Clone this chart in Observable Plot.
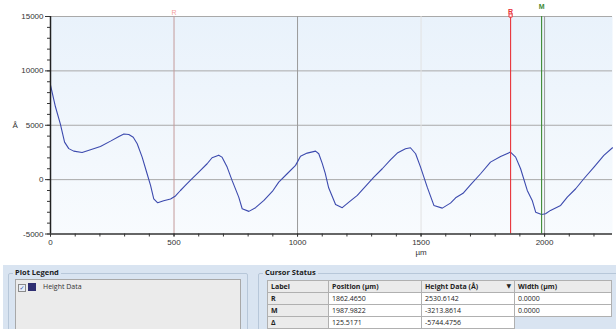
<!DOCTYPE html>
<html>
<head>
<meta charset="utf-8">
<script src="https://cdn.jsdelivr.net/npm/d3@7"></script>
<script src="https://cdn.jsdelivr.net/npm/@observablehq/plot@0.6"></script>
<style>
  body { margin: 0; background: #fff; width: 616px; height: 329px; position: relative; overflow: hidden; font-family: "Open Sans", "DejaVu Sans", sans-serif; }
  #chart { position: absolute; left: 0; top: 0; }
  #chart svg { overflow: visible; }
  #panel { position: absolute; left: 3px; top: 265px; width: 613px; height: 64px; background: #d9e4f1; }
  .fs { position: absolute; border: 1px solid #b7c7d9; border-radius: 2px; }
  .fstitle { position: absolute; font-size: 7.5px; font-weight: bold; color: #1c1c1c; background: #d9e4f1; padding: 0 2px; line-height: 9px; }
  #legbox { position: absolute; left: 12px; top: 13px; width: 224px; height: 60px; background: #ebebeb; border: 1px solid #a8a8a8; }
  .cb { position: absolute; left: 0px; top: 4px; width: 6px; height: 6px; border: 1px solid #8a8a8a; background: #e8eef8; font-size: 6px; line-height: 6px; color: #2a4aa0; text-align: center; }
  .sw { position: absolute; left: 10px; top: 3px; width: 8px; height: 8px; background: #2f2f72; }
  .lt { position: absolute; left: 25px; top: 2px; font-size: 7px; color: #333; line-height: 10px; }
  table { position: absolute; left: 8px; top: 15px; border-collapse: collapse; font-size: 7px; color: #222; }
  td, th { border: 1px solid #b0b0b0; height: 11px; padding: 0 3px; text-align: left; line-height: 11px; white-space: nowrap; }
  th { background: #ebebeb; font-weight: bold; }
  td { background: #fff; }
  td.lab { background: #ebebeb; font-weight: bold; }
  td.empty { background: #d9e4f1; border: none; }
</style>
</head>
<body>
<div id="chart"></div>
<div id="panel"></div>
<script>
// ---- data ----
const posUm = [0, 20, 40, 57, 74, 94, 128, 162, 202, 243, 277, 297, 317, 335, 351, 371, 391, 405, 418, 434, 458, 486, 506, 526, 545, 567, 600, 634, 654, 681, 694, 715, 735, 762, 776, 803, 830, 864, 898, 924, 958, 992, 1012, 1039, 1073, 1086, 1100, 1112, 1126, 1154, 1181, 1208, 1242, 1275, 1309, 1343, 1377, 1404, 1437, 1457, 1478, 1498, 1525, 1552, 1586, 1619, 1640, 1670, 1700, 1741, 1781, 1822, 1862, 1883, 1903, 1930, 1950, 1964, 1988, 2004, 2024, 2065, 2092, 2126, 2159, 2200, 2240, 2275];
const heightA = [8700, 6700, 5100, 3450, 2850, 2620, 2500, 2750, 3050, 3540, 3970, 4200, 4150, 3900, 3300, 2070, 540, -530, -1760, -2130, -1950, -1780, -1500, -1000, -550, -50, 690, 1460, 2010, 2250, 2070, 1150, -70, -1610, -2680, -2920, -2580, -1910, -1090, -230, 540, 1310, 2160, 2440, 2620, 2380, 1500, 600, -750, -2280, -2580, -2070, -1450, -630, 230, 1000, 1830, 2440, 2840, 2930, 2380, 1150, -690, -2370, -2620, -2160, -1670, -1260, -480, 540, 1610, 2130, 2530, 2070, 1000, -990, -1910, -2990, -3214, -3140, -2830, -2370, -1610, -840, 80, 1150, 2230, 2930];

const xTicks = [0, 500, 1000, 1500, 2000];
const xMinorTicks = d3.range(0, 2275, 100);
const yTicks = [-5000, 0, 5000, 10000, 15000];
const yMinorTicks = d3.range(-5000, 15001, 1000);
const hGrid = [0, 5000, 10000];
const vGridDark = [1000, 2000];
const vGridLight = [1500];

const ghostCursor = [{label: "R", pos: 500}];
const cursorLabels = ["R", "M"];
const cursorPos = [1862.4650, 1987.9822];
const cursorColors = ["#e8333a", "#3d8a34"];

const tableLabels = ["R", "M", "Δ"];
const tablePos = ["1862.4650", "1987.9822", "125.5171"];
const tableHeight = ["2530.6142", "-3213.8614", "-5744.4756"];
const tableWidth = ["0.0000", "0.0000", ""];
const tableHeaders = ["Label", "Position (µm)", "Height Data (Å)", "Width (µm)"];
const legendItems = ["Height Data"];

// ---- chart ----
const series = posUm.map((x, i) => ({x, y: heightA[i]}));
const cursors = cursorLabels.map((l, i) => ({label: l, pos: cursorPos[i], color: cursorColors[i]}));
const cursorR = cursors.filter(d => d.label === "R");
const cursorM = cursors.filter(d => d.label === "M");

const chart = Plot.plot({
  width: 616,
  height: 262,
  marginLeft: 50,
  marginRight: 4,
  marginTop: 16,
  marginBottom: 28.5,
  x: {domain: [0, 2275]},
  y: {domain: [-5000, 15000]},
  style: {fontFamily: "'Liberation Sans', Arial, sans-serif", fontSize: "8px", color: "#333", background: "transparent"},
  marks: [
    Plot.frame({fill: "url(#plotbg)", stroke: null}),
    Plot.ruleY(hGrid, {stroke: "#a9a9a9", strokeWidth: 1}),
    Plot.ruleY([15000], {stroke: "#a9a9a9", strokeWidth: 1}),
    Plot.ruleX(vGridDark, {stroke: "#9a9a9a", strokeWidth: 1}),
    Plot.ruleX(vGridLight, {stroke: "#e2e2e2", strokeWidth: 1}),
    Plot.ruleX(ghostCursor, {x: "pos", stroke: "#c39a9a", strokeWidth: 1}),
    Plot.text(ghostCursor, {x: "pos", text: "label", frameAnchor: "top", dy: -6, fill: "#f3a0a0", fontSize: 7}),
    Plot.line(series, {x: "x", y: "y", stroke: "#3c4aae", strokeWidth: 1.1}),
    Plot.ruleX(cursors, {x: "pos", stroke: "color", strokeWidth: 1.1}),
    Plot.text(cursorR, {x: "pos", text: "label", frameAnchor: "top", dy: -7, fill: "color", fontWeight: "bold", fontSize: 7}),
    Plot.text(cursorM, {x: "pos", text: "label", frameAnchor: "top", dy: -12, fill: "color", fontWeight: "bold", fontSize: 7}),
    Plot.dot(cursorR, {x: "pos", frameAnchor: "top", dy: -1, symbol: "square", r: 1.8, stroke: "color", fill: "#fff", strokeWidth: 1}),
    Plot.ruleX([0], {stroke: "#222", strokeWidth: 1.5}),
    Plot.ruleY([-5000], {stroke: "#333", strokeWidth: 1.5}),
    Plot.axisY({ticks: yMinorTicks, tickSize: 3, tickFormat: () => "", label: null, stroke: "#333"}),
    Plot.axisY({ticks: yTicks, tickSize: 5, tickPadding: 2, tickFormat: d => String(d), label: null, stroke: "#333"}),
    Plot.axisX({ticks: xMinorTicks, tickSize: 3, tickFormat: () => "", label: null, stroke: "#333"}),
    Plot.axisX({ticks: xTicks, tickSize: 3, tickPadding: 2, tickFormat: d => String(d), label: null, stroke: "#333"}),
    Plot.text(["Å"], {frameAnchor: "left", dx: -38, fontSize: 8, fill: "#333"}),
    Plot.text(["µm"], {x: () => 1500, frameAnchor: "bottom", dy: 21, fontSize: 8, fill: "#333"})
  ]
});
// gradient background for the plot area
const svgNS = "http://www.w3.org/2000/svg";
const defs = document.createElementNS(svgNS, "defs");
defs.innerHTML = `<linearGradient id="plotbg" x1="0" y1="0" x2="0" y2="1">
  <stop offset="0" stop-color="#e9f2fb"/><stop offset="1" stop-color="#f8fbfe"/></linearGradient>`;
chart.insertBefore(defs, chart.firstChild);
document.getElementById("chart").appendChild(chart);

// ---- bottom panel ----
const panel = document.getElementById("panel");
panel.innerHTML = `
  <div class="fs" style="left:5px; top:8px; width:238px; height:70px;">
    <div class="fstitle" style="left:4px; top:-6px;">Plot Legend</div>
    <div id="legbox" style="left:6px; top:5px;"></div>
  </div>
  <div class="fs" style="left:255px; top:8px; width:370px; height:70px;">
    <div class="fstitle" style="left:4px; top:-6px;">Cursor Status</div>
    <div id="tbl"></div>
  </div>`;
const legbox = document.getElementById("legbox");
legendItems.forEach((name, i) => {
  const row = document.createElement("div");
  row.style.cssText = `position:absolute; left:2px; top:${i * 12}px; width:200px; height:12px;`;
  row.innerHTML = `<div class="cb">✓</div><div class="sw"></div><div class="lt">${name}</div>`;
  legbox.appendChild(row);
});
const widths = [54, 86, 86, 90];
let html = `<table style="left:8px; top:6px;"><tr>` + tableHeaders.map((h, i) =>
  `<th style="width:${widths[i]}px">${h}${i === 2 ? '<span style="float:right;font-size:6px">▼</span>' : ''}</th>`).join("") + `</tr>`;
tableLabels.forEach((l, i) => {
  html += `<tr><td class="lab">${l}</td><td>${tablePos[i]}</td><td>${tableHeight[i]}</td>` +
    (tableWidth[i] ? `<td>${tableWidth[i]}</td>` : `<td class="empty"></td>`) + `</tr>`;
});
html += `</table>`;
document.getElementById("tbl").innerHTML = html;
</script>
</body>
</html>
